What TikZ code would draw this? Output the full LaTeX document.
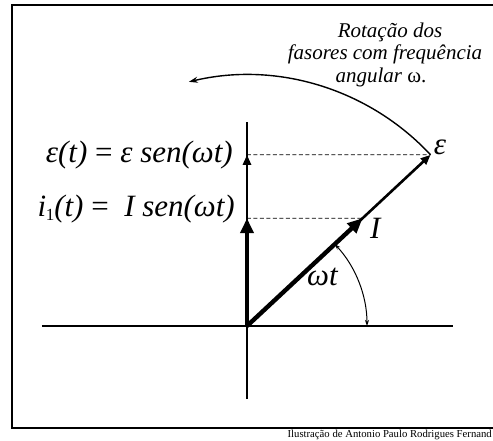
\documentclass[tikz,border=0pt]{standalone}
\usepackage{fontspec}
\setmainfont{Liberation Serif}
\usetikzlibrary{arrows.meta, calc}
\newcommand{\eqfont}{\fontsize{31}{31}\selectfont\itshape}
\newcommand{\notafont}{\fontsize{21}{22}\selectfont\itshape}
\newcommand{\subum}{\kern-0.5pt\raisebox{-0.35ex}{\upshape\fontsize{17}{17}\selectfont 1}}

\begin{document}
\begin{tikzpicture}[
  x=1pt, y=1pt,
  axis/.style={line width=1.8pt},
  moldura/.style={line width=1.6pt},
  fasor/.style={line width=2.6pt, -{Triangle[length=10pt,width=8pt]}},
  fasorbig/.style={line width=4.4pt, -{Triangle[length=15pt,width=13pt]}},
  proj/.style={line width=0.8pt, dash pattern=on 4pt off 2.5pt},
  giro/.style={line width=1.4pt, -{Stealth[length=9pt,width=6pt]}},
  angulo/.style={line width=1pt, {Stealth[length=6pt,width=4pt]}-{Stealth[length=6pt,width=4pt]}},
  rotulo/.style={font=\eqfont, inner sep=0pt},
  nota/.style={font=\notafont, inner sep=0pt, anchor=base}
]
  \useasboundingbox (-247,-114) rectangle (246,326);
  \clip (-247,-114) rectangle (246,326);

  % moldura
  \draw[moldura] (260,-102) -- (-235,-102) -- (-235,321) -- (260,321);

  % pontos
  \coordinate (O) at (0,0);
  \coordinate (E) at (43:251);
  \coordinate (I) at (43:158);
  \coordinate (Ey) at (0,171.2);
  \coordinate (Iy) at (0,107.8);

  % eixos
  \coordinate (xa) at (-205,0);
  \coordinate (xb) at (206,0);
  \coordinate (ya) at (0,-73);
  \coordinate (yb) at (0,204);
  \draw[axis] (xa) -- (xb);
  \draw[axis] (ya) -- (yb);

  % projecoes
  \draw[proj] (Ey) -- (E);
  \draw[proj] (Iy) -- (I);

  % fasores
  \draw[fasor] (O) -- (Ey);
  \draw[fasor] (O) -- (E);
  \draw[fasorbig] (O) -- (Iy);
  \draw[fasorbig] (O) -- (I);

  % angulo e rotacao
  \draw[angulo] (43:120) arc[start angle=43, end angle=0, radius=120];
  \draw[giro] (E) arc[start angle=43, end angle=103.4, radius=251];

  % rotulos
  \node[rotulo, anchor=base east] (eqE) at (-14,164) {ε(t) \upshape=\itshape{} ε sen(ωt)};
  \node[rotulo, anchor=base east] (eqI) at (-12,110) {i\subum(t) \upshape=\itshape{}\ \ I sen(ωt)};
  \node[rotulo, anchor=base west] (lE) at ($(E)+(3,0)$) {ε};
  \node[rotulo, anchor=base west] (lI) at (123,88) {I};
  \node[rotulo, anchor=base west] (lwt) at (60,41) {ωt};

  \node[nota] (n1) at (143,288) {Rotação dos};
  \node[nota] (n2) at (138,266) {fasores com frequência};
  \node[nota] (n3) at (134,244) {angular \upshape ω.};

  \node[font=\fontsize{10.7}{10.7}\selectfont, inner sep=0pt, anchor=base east] (credito) at (245,-111) {Ilustração de Antonio Paulo Rodrigues Fernand};
\end{tikzpicture}
\end{document}
